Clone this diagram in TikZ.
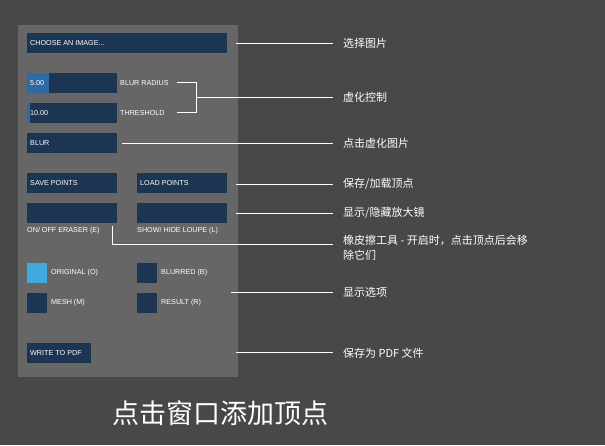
\documentclass[tikz,border=0pt]{standalone}
\usepackage{fontspec}
\setmainfont{Liberation Sans}
\newfontfamily\cjk{Noto Sans CJK SC}
\definecolor{bgdark}{HTML}{484848}
\definecolor{panel}{HTML}{666666}
\definecolor{boxblue}{HTML}{1C3553}
\definecolor{slider}{HTML}{2E6AA6}
\definecolor{checkon}{HTML}{3FA9E0}
\tikzset{
  uibox/.style={fill=boxblue},
  uitext/.style={text=white, font=\fontsize{7.2}{8}\selectfont, inner sep=0pt, anchor=west},
  note/.style={text=white, font=\cjk\fontsize{11}{15}\selectfont, inner sep=0pt, anchor=west, align=left},
  pointer/.style={white, line width=0.8pt}
}
\begin{document}
\begin{tikzpicture}[x=1pt,y=-1pt]
    \fill[bgdark] (0,0) rectangle (605,445);
    \fill[panel] (18,25) rectangle (238,377);

    % controls
    \fill[uibox] (27,33) rectangle (227,53);
    \node[uitext] (choose) at (30,43) {CHOOSE AN IMAGE...};
    \fill[uibox] (27,73) rectangle (117,93);
    \fill[slider] (27,73) rectangle (49,93);
    \node[uitext] (radius) at (30,83) {5.00};
    \fill[uibox] (27,103) rectangle (117,123);
    \fill[slider] (27,103) rectangle (30,123);
    \node[uitext] (thresh) at (30,113) {10.00};
    \node[uitext] (radiuslbl) at (120,83) {BLUR RADIUS};
    \node[uitext] (threshlbl) at (120,113) {THRESHOLD};
    \fill[uibox] (27,133) rectangle (117,153);
    \node[uitext] (blur) at (30,143) {BLUR};
    \fill[uibox] (27,173) rectangle (117,193);
    \node[uitext] (save) at (30,183) {SAVE POINTS};
    \fill[uibox] (137,173) rectangle (227,193);
    \node[uitext] (load) at (140,183) {LOAD POINTS};
    \fill[uibox] (27,203) rectangle (117,223);
    \fill[uibox] (137,203) rectangle (227,223);
    \node[uitext] (eraser) at (27,231) {ON/ OFF ERASER (E)};
    \node[uitext] (loupe) at (137,231) {SHOW/ HIDE LOUPE (L)};
    \fill[checkon] (27,263) rectangle (47,283);
    \node[uitext] (orig) at (51,273) {ORIGINAL (O)};
    \fill[uibox] (137,263) rectangle (157,283);
    \node[uitext] (blurred) at (161,273) {BLURRED (B)};
    \fill[uibox] (27,293) rectangle (47,313);
    \node[uitext] (mesh) at (51,303) {MESH (M)};
    \fill[uibox] (137,293) rectangle (157,313);
    \node[uitext] (result) at (161,303) {RESULT (R)};
    \fill[uibox] (27,343) rectangle (91,363);
    \node[uitext] (pdf) at (30,353) {WRITE TO PDF};

    % notes
    \node[note] (n1) at (343,43) {选择图片};
    \node[note] (n2) at (343,97) {虚化控制};
    \node[note] (n3) at (343,143) {点击虚化图片};
    \node[note] (n4) at (343,184) {保存/加载顶点};
    \node[note] (n5) at (343,213) {显示/隐藏放大镜};
    \node[note, anchor=north west] (n6) at (343,235) {橡皮擦工具 - 开启时，点击顶点后会移\\除它们};
    \node[note] (n7) at (343,292) {显示选项};
    \node[note] (n8) at (343,353) {保存为 PDF 文件};
    \node[text=white, font=\cjk\fontsize{27}{30}\selectfont] (title) at (220,413) {点击窗口添加顶点};

    % pointers
    \coordinate (b1) at (196,97);
    \draw[pointer] (236,43) -- (333,43);
    \draw[pointer] (177,82) -- (196,82) -- (196,112) -- (177,112);
    \draw[pointer] (b1) -- (333,97);
    \draw[pointer] (122,143) -- (333,143);
    \draw[pointer] (236,184) -- (333,184);
    \draw[pointer] (236,213) -- (333,213);
    \draw[pointer] (112,226) -- (112,244) -- (333,244);
    \draw[pointer] (231,292) -- (333,292);
    \draw[pointer] (236,352) -- (333,352);
\end{tikzpicture}
\end{document}
